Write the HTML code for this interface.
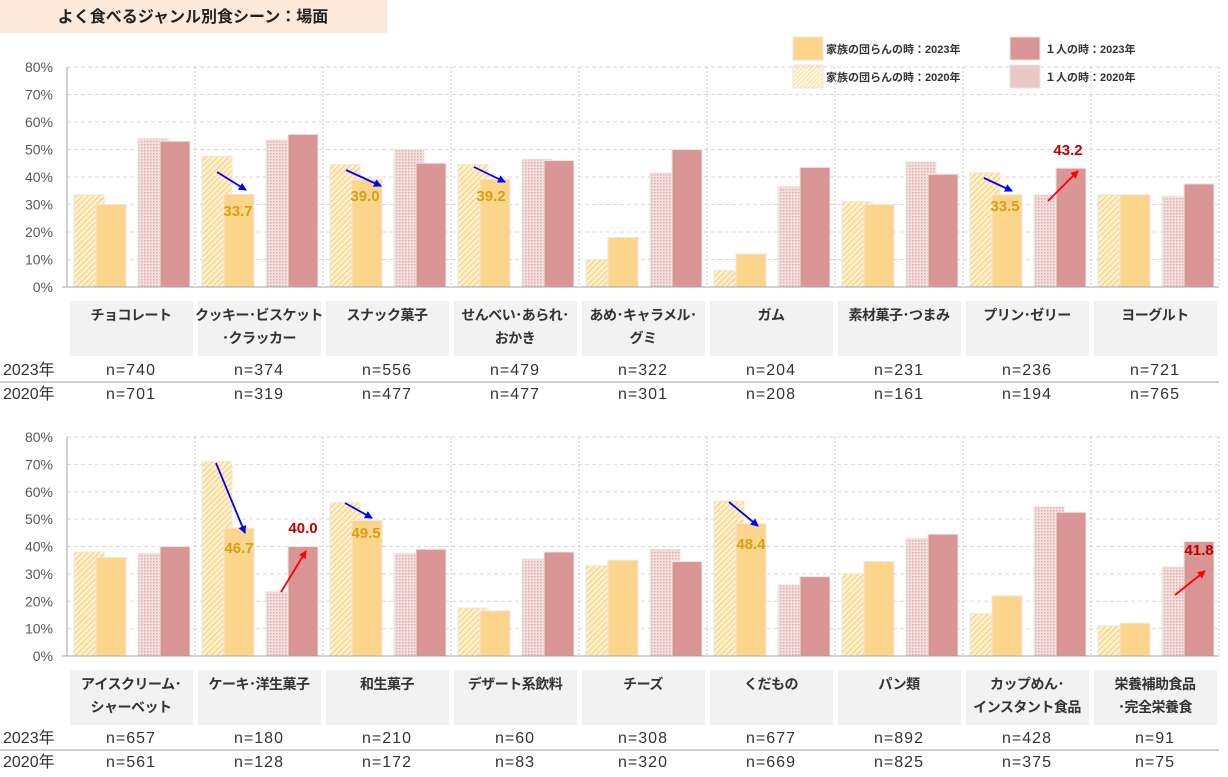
<!DOCTYPE html>
<html><head><meta charset="utf-8"><style>
body{margin:0;background:#fff;width:1228px;height:777px;overflow:hidden;font-family:"Liberation Sans","Noto Sans CJK JP",sans-serif}
</style></head><body>
<svg id="s" width="1228" height="777" xmlns="http://www.w3.org/2000/svg" style="position:absolute;left:0;top:0">
<defs>
<pattern id="pf" width="4" height="4" patternUnits="userSpaceOnUse" patternTransform="rotate(45)">
<rect width="4" height="4" fill="#fff3d6"/><rect width="1.6" height="4" fill="#fdd58a"/></pattern>
<pattern id="pf2" width="3" height="3" patternUnits="userSpaceOnUse" patternTransform="rotate(45)">
<rect width="3" height="3" fill="#fff6e0"/><rect width="1" height="3" fill="#fde0a8"/></pattern>
<pattern id="ps" width="3" height="3" patternUnits="userSpaceOnUse">
<rect width="3" height="3" fill="#f4dede"/><rect width="1.5" height="1.5" fill="#e2aeae"/></pattern>
<marker id="ab" markerWidth="8" markerHeight="8" refX="7" refY="4" orient="auto" markerUnits="userSpaceOnUse"><path d="M0,0 L8,4 L0,8 z" fill="#0000ff"/></marker>
<marker id="ar" markerWidth="8" markerHeight="8" refX="7" refY="4" orient="auto" markerUnits="userSpaceOnUse"><path d="M0,0 L8,4 L0,8 z" fill="#ff0000"/></marker>
</defs>
<rect x="0" y="0" width="387" height="33" fill="#fde9d9"/>
<text x="193" y="22" text-anchor="middle" font-size="16" font-weight="bold" fill="#222">よく食べるジャンル別食シーン：場面</text>
<rect x="793" y="37" width="30" height="23" fill="#fdd58a" stroke="#e6e6e6"/>
<text x="826" y="53" font-size="11" font-weight="bold" fill="#333">家族の団らんの時：2023年</text>
<rect x="793" y="65" width="30" height="23" fill="url(#pf2)" stroke="#e6e6e6"/>
<text x="826" y="81" font-size="11" font-weight="bold" fill="#333">家族の団らんの時：2020年</text>
<rect x="1010" y="37" width="30" height="23" fill="#d99694" stroke="#e6e6e6"/>
<text x="1045" y="53" font-size="11" font-weight="bold" fill="#333">１人の時：2023年</text>
<rect x="1010" y="65" width="30" height="23" fill="#ebc8c8" stroke="#e6e6e6"/>
<text x="1045" y="81" font-size="11" font-weight="bold" fill="#333">１人の時：2020年</text>
<g id="g"></g>
</svg>
<script>
var g=document.getElementById('g'),h='';
function chart(top,bot,cats,data,ns23,ns20,lblTop,nTop){
 var x0=67,gw=128,sc=(bot-top)/80;
 for(var i=0;i<=8;i++){var y=bot-i*10*sc;
  if(i>0)h+='<line x1="67" x2="1219" y1="'+y+'" y2="'+y+'" stroke="#d9d9d9" stroke-dasharray="4,3"/>';
  h+='<text x="53" y="'+(y+5)+'" text-anchor="end" font-size="14" fill="#595959">'+(i*10)+'%</text>';}
 for(var c=1;c<=9;c++){var x=x0+c*gw;h+='<line x1="'+x+'" x2="'+x+'" y1="'+top+'" y2="'+bot+'" stroke="#c8c8c8" stroke-dasharray="2,2"/>';}
 cats.forEach(function(cat,c){var gx=x0+c*gw,d=data[c];
  var off=[7,29,71,93],f=['url(#pf)','#fdd58a','url(#ps)','#d99694'];
  for(var k=0;k<4;k++){var hh=d[k]*sc;h+='<rect x="'+(gx+off[k])+'" y="'+(bot-hh)+'" width="30" height="'+hh+'" fill="'+f[k]+'" stroke="#e8e8e8" stroke-width="1"/>';}
  h+='<rect x="'+(gx+3)+'" y="'+lblTop+'" width="'+(gw-5)+'" height="55" fill="#f2f2f2"/>';
  var ls=cat.split('|');
  ls.forEach(function(l,j){var yy=ls.length==1?lblTop+19:lblTop+19+j*23;
   h+='<text x="'+(gx+gw/2)+'" y="'+yy+'" text-anchor="middle" font-size="14" font-weight="bold" fill="#333" letter-spacing="-0.5">'+l+'</text>';});
  h+='<text x="'+(gx+gw/2)+'" y="'+(nTop)+'" text-anchor="middle" font-size="16" fill="#333" letter-spacing="1">n='+ns23[c]+'</text>';
  h+='<text x="'+(gx+gw/2)+'" y="'+(nTop+24)+'" text-anchor="middle" font-size="16" fill="#333" letter-spacing="1">n='+ns20[c]+'</text>';
 });
 h+='<line x1="67" x2="67" y1="'+top+'" y2="'+bot+'" stroke="#a6a6a6"/>';
 h+='<line x1="62" x2="1219" y1="'+bot+'" y2="'+bot+'" stroke="#a6a6a6"/>';
 h+='<text x="3" y="'+nTop+'" font-size="16" fill="#333">2023年</text><text x="3" y="'+(nTop+24)+'" font-size="16" fill="#333">2020年</text>';
 h+='<line x1="0" x2="1219" y1="'+(nTop+7)+'" y2="'+(nTop+7)+'" stroke="#bfbfbf" stroke-width="1.5"/>';
}
chart(67,287,['チョコレート','クッキー･ビスケット|･クラッカー','スナック菓子','せんべい･あられ･|おかき','あめ･キャラメル･|グミ','ガム','素材菓子･つまみ','プリン･ゼリー','ヨーグルト'],
[[33.5,30,54,53],[47.5,33.7,53.5,55.5],[44.5,39,50,45],[44.5,39.2,46.5,46],[10,18,41.5,50],[6,12,36.5,43.5],[31,30,45.5,41],[41.5,33.5,33.5,43.2],[33.5,33.5,33,37.5]],
[740,374,556,479,322,204,231,236,721],[701,319,477,477,301,208,161,194,765],301,375);
chart(437,656,['アイスクリーム･|シャーベット','ケーキ･洋生菓子','和生菓子','デザート系飲料','チーズ','くだもの','パン類','カップめん･|インスタント食品','栄養補助食品|･完全栄養食'],
[[38,36,37.5,40],[71,46.7,23.5,40],[56,49.5,37.5,39],[17.5,16.5,35.5,38],[33,35,39,34.5],[56.5,48.4,26,29],[30,34.5,43,44.5],[15.5,22,54.5,52.5],[11,12,32.5,41.8]],
[657,180,210,60,308,677,892,428,91],[561,128,172,83,320,669,825,375,75],670,743);
function ar(a,b,c,d,col){h+='<line x1="'+a+'" y1="'+b+'" x2="'+c+'" y2="'+d+'" stroke="'+(col=='r'?'#ff0000':'#0000ff')+'" stroke-width="1.8" marker-end="url(#a'+col+')"/>';}
ar(217,172,246,190,'b');ar(346,170,381,186,'b');ar(474,167,505,182,'b');ar(984,178,1012,191,'b');ar(1048,201,1078,171,'r');
ar(216,463,245,533,'b');ar(281,592,306,551,'r');ar(345,503,372,518,'b');ar(729,502,758,526,'b');ar(1175,595,1205,571,'r');
function lb(x,y,t,c){h+='<text x="'+x+'" y="'+y+'" text-anchor="middle" font-size="15" font-weight="bold" fill="'+c+'">'+t+'</text>';}
var Y='#d4a017',R='#c00000';
lb(238,216,'33.7',Y);lb(365,201,'39.0',Y);lb(491,201,'39.2',Y);lb(1005,211,'33.5',Y);lb(1068,155,'43.2',R);
lb(239,553,'46.7',Y);lb(303,533,'40.0',R);lb(366,538,'49.5',Y);lb(751,549,'48.4',Y);lb(1199,555,'41.8',R);
g.innerHTML=h;
</script>
</body></html>
